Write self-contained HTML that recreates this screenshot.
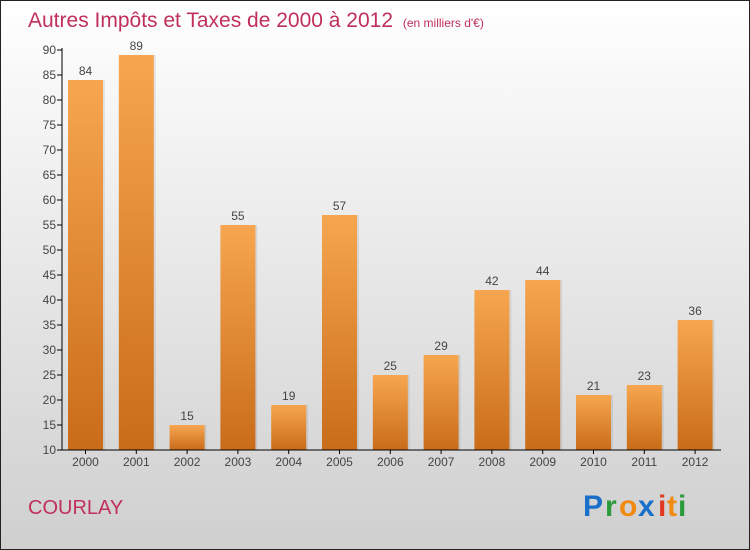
<!DOCTYPE html>
<html><head><meta charset="utf-8"><style>
body{margin:0}
svg{display:block;font-family:"Liberation Sans",sans-serif}
</style></head><body>
<svg id="c" width="750" height="550">
<defs>
<linearGradient id="bg" x1="0" y1="0" x2="0" y2="1"><stop offset="0" stop-color="#ffffff"/><stop offset="1" stop-color="#cfcfcf"/></linearGradient>
<linearGradient id="bar" x1="0" y1="0" x2="0" y2="1"><stop offset="0" stop-color="#f7a64f"/><stop offset="1" stop-color="#c96c1a"/></linearGradient>
</defs>
<rect x="0.5" y="0.5" width="749" height="549" fill="url(#bg)" stroke="#222"/>
<text x="28" y="27" font-size="21" fill="#c0305a">Autres Impôts et Taxes de 2000 à 2012 <tspan font-size="12" dx="4">(en milliers d'€)</tspan></text>
<g id="plot"></g>
<text x="28" y="514" font-size="20" fill="#c0305a">COURLAY</text>
<g font-size="30" font-weight="bold">
<text x="583" y="516" fill="#1a6fc9">P</text><text x="605" y="516" fill="#2a9a3a">r</text><text x="619" y="516" fill="#f08a10">o</text><text x="638" y="516" fill="#1a6fc9">x</text><text x="658" y="516" fill="#e03a20">i</text><text x="667" y="516" fill="#f08a10">t</text><text x="678" y="516" fill="#2a9a3a">i</text>
</g>
</svg>
<script>
const categories=["2000","2001","2002","2003","2004","2005","2006","2007","2008","2009","2010","2011","2012"];
const values=[84,89,15,55,19,57,25,29,42,44,21,23,36];
const yTicks=[10,15,20,25,30,35,40,45,50,55,60,65,70,75,80,85,90];
const NS="http://www.w3.org/2000/svg";
const g=document.getElementById('plot');
const y=v=>450-(v-10)*5;
const x0=62,step=50.8,bw=35;
const xc=i=>x0+6+bw/2+i*step;
function el(t,a,p){const e=document.createElementNS(NS,t);for(const k in a)e.setAttribute(k,a[k]);(p||g).appendChild(e);return e;}
yTicks.forEach(v=>{
 const t=el('text',{x:56,y:y(v)+4,'font-size':12,fill:'#444','text-anchor':'end'});t.textContent=v;
 
 
 const l=el('line',{x1:57,x2:62,y1:y(v),y2:y(v),stroke:'#000'});
 
 
});
values.forEach((v,i)=>{
 const cx=xc(i);
 const s=el('rect',{x:cx-bw/2+2,y:y(v),width:bw,height:450-y(v),fill:'#000',opacity:0.08});
 
 
 const r=el('rect',{x:cx-bw/2,y:y(v),width:bw,height:450-y(v),fill:'url(#bar)'});
 
 
 const t=el('text',{x:cx,y:y(v)-5,'font-size':12,fill:'#444','text-anchor':'middle'});t.textContent=v;
 
 
 const c=el('text',{x:cx,y:466,'font-size':12,fill:'#444','text-anchor':'middle'});c.textContent=categories[i];
 
 
 const tk=el('line',{x1:cx,x2:cx,y1:450,y2:454,stroke:'#000'});
 
 
});
const ya=el('line',{x1:62,x2:62,y1:48,y2:450,stroke:'#000'});


const xa=el('line',{x1:62,x2:721,y1:450,y2:450,stroke:'#000'});


</script>
</body></html>
